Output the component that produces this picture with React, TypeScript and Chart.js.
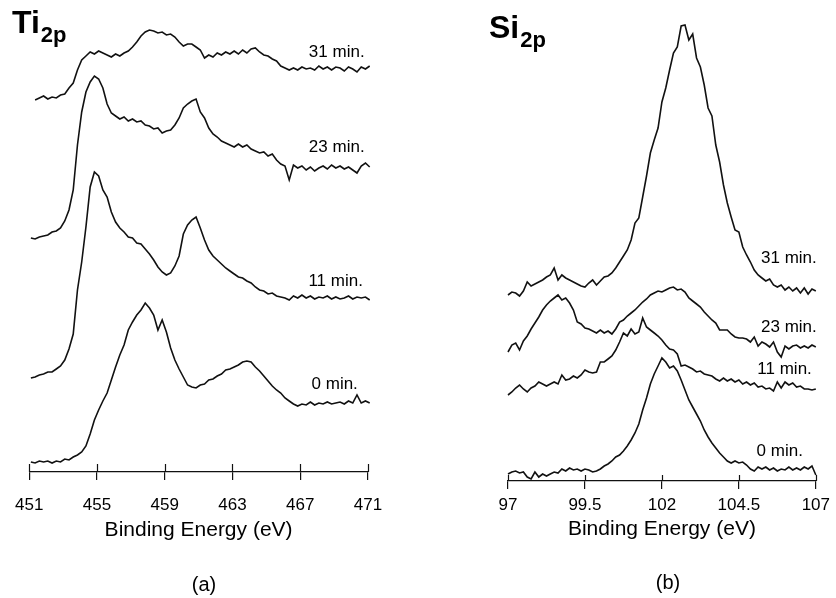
import React, { useEffect, useRef } from "react";
import { Chart, registerables } from "chart.js";

Chart.register(...registerables);

const FONT = "'Liberation Sans', Arial, Helvetica, sans-serif";

// ---------- Ti 2p panel ----------
const tiStart = 451.1;
const tiStep = 0.25;
const tiTicks = [451, 455, 459, 463, 467, 471];

const ti0 = [
  10, 9, 11, 10, 11, 9, 11, 10, 13, 12,
  15, 17, 20, 26, 38, 52, 62, 71, 79, 92,
  105, 117, 127, 142, 150, 157, 162, 169, 164, 157,
  142, 152, 140, 124, 112, 103, 95, 87, 85, 84,
  87, 88, 92, 93, 96, 98, 102, 103, 105, 107,
  110, 111, 110, 105, 101, 96, 91, 86, 82, 79,
  74, 71, 68, 66, 68, 67, 70, 67, 69, 68,
  70, 68, 69, 70, 68, 71, 69, 77, 69, 71,
  69,
];
const ti11 = [
  94, 95, 97, 98, 100, 100, 103, 106, 112, 123,
  138, 182, 210, 245, 285, 300, 296, 282, 275, 260,
  250, 244, 240, 235, 234, 229, 228, 223, 218, 212,
  205, 200, 197, 199, 206, 216, 238, 247, 252, 255,
  244, 232, 222, 216, 212, 208, 204, 201, 198, 195,
  194, 191, 189, 185, 182, 181, 178, 179, 176, 175,
  174, 172, 176, 174, 177, 174, 176, 173, 175, 174,
  176, 173, 175, 173, 174, 176, 173, 175, 174, 175,
  172,
];
const ti23 = [
  234, 233, 235, 236, 237, 240, 241, 244, 251, 262,
  282, 327, 360, 380, 390, 396, 393, 384, 368, 359,
  356, 353, 355, 351, 353, 350, 351, 347, 346, 343,
  344, 339, 341, 342, 347, 354, 364, 368, 371, 373,
  360, 354, 344, 338, 335, 331, 329, 327, 325, 328,
  325, 327, 323, 321, 319, 320, 316, 318, 312, 308,
  306, 292, 307, 304, 306, 302, 305, 301, 304, 306,
  303, 307, 304, 306, 303, 305, 302, 299, 306, 309,
  305,
];
const ti31 = [
  null, 372, 374, 376, 373, 375, 374, 377, 378, 384,
  389, 402, 412, 416, 420, 418, 421, 419, 417, 415,
  418, 416, 419, 421, 425, 430, 436, 440, 442, 441,
  439, 440, 437, 438, 435, 430, 426, 428, 428, 425,
  422, 414, 417, 415, 419, 417, 420, 418, 421, 418,
  422, 419, 423, 424, 420, 417, 416, 413, 411, 406,
  404, 402, 404, 402, 405, 403, 404, 402, 406, 403,
  405, 402, 405, 404, 401, 405, 403, 400, 405, 403,
  406,
];
const tiLabels = ["31 min.", "23 min.", "11 min.", "0 min."];
const tiLabelX = [470.8, 470.8, 470.7, 470.4];
const tiLabelY = [420, 325, 191, 88];

// ---------- Si 2p panel ----------
const siStart = 97;
const siStep = 0.125;
const siTicks = [97, 99.5, 102, 104.5, 107];

const si0 = [
  7, 9, 10, 8, 9, 4, 2, 9, 4, 7,
  5, 7, 9, 8, 12, 10, 13, 11, 12, 10,
  12, 11, 9, 10, 12, 15, 17, 20, 24, 26,
  30, 35, 41, 48, 57, 71, 83, 97, 107, 115,
  123, 119, 113, 115, 110, 101, 91, 81, 74, 67,
  60, 51, 44, 38, 33, 28, 24, 20, 18, 20,
  18, 19, 16, 12, 10, 14, 12, 14, 11, 13,
  10, 12, 11, 14, 11, 13, 11, 14, 12, 15,
  6,
];
const si11 = [
  86, 89, 93, 96, 92, 89, 93, 95, 99, 97,
  95, 97, 99, 97, 106, 101, 102, 105, 103, 106,
  111, 109, 108, 109, 119, 119, 122, 125, 131, 139,
  148, 145, 152, 147, 149, 163, 154, 151, 148, 145,
  141, 136, 132, 131, 127, 115, 116, 114, 112, 109,
  110, 107, 106, 105, 102, 100, 103, 100, 102, 99,
  101, 97, 99, 96, 98, 94, 95, 92, 93, 90,
  99, 93, 99, 96, 98, 94, 95, 92, 92, 91,
  92,
];
const si23 = [
  129, 136, 138, 131, 140, 145, 152, 158, 164, 171,
  176, 180, 183, 186, 181, 183, 178, 171, 159, 157,
  153, 152, 150, 148, 151, 148, 150, 147, 152, 159,
  161, 165, 168, 171, 175, 179, 182, 186, 188, 190,
  189, 191, 193, 194, 191, 192, 189, 183, 180, 177,
  174, 169, 165, 161, 158, 151, 151, 151, 147, 144,
  143, 143, 142, 139, 144, 135, 139, 137, 134, 139,
  129, 124, 135, 132, 135, 136, 133, 135, 133, 136,
  134,
];
const si31 = [
  186, 189, 188, 185, 190, 199, 195, 197, 199, 201,
  204, 206, 213, 201, 206, 203, 201, 199, 197, 195,
  194, 198, 201, 196, 200, 204, 205, 208, 213, 219,
  225, 231, 241, 258, 263, 284, 305, 328, 341, 353,
  379, 393, 411, 428, 434, 455, 456, 441, 447, 423,
  414, 396, 373, 365, 336, 319, 296, 278, 264, 251,
  249, 234, 226, 219, 211, 206, 203, 200, 202, 196,
  194, 196, 191, 194, 190, 193, 188, 193, 187, 192,
  190,
];
const siLabels = ["31 min.", "23 min.", "11 min.", "0 min."];
const siLabelX = [107.03, 107.03, 106.87, 106.58];
const siLabelY = [223, 154, 112, 30];

const INK = "#111";

const decorPlugin = {
  id: "decor",
  afterDatasetsDraw(chart: any, _args: any, opts: any) {
    const ctx = chart.ctx;
    const xs = chart.scales.x;
    const ys = chart.scales.y;
    const axisY = chart.chartArea.bottom;
    ctx.save();
    ctx.strokeStyle = INK;
    ctx.lineWidth = 1.2;
    for (const t of xs.ticks) {
      const px = Math.round(xs.getPixelForValue(t.value)) + 0.5;
      ctx.beginPath();
      ctx.moveTo(px, axisY - opts.up);
      ctx.lineTo(px, axisY);
      ctx.stroke();
    }
    ctx.fillStyle = "#000";
    ctx.font = `17px ${FONT}`;
    ctx.textAlign = "right";
    ctx.textBaseline = "middle";
    opts.labels.forEach((l: string, i: number) => {
      ctx.fillText(l, xs.getPixelForValue(opts.lx[i]), ys.getPixelForValue(opts.ly[i]));
    });
    ctx.restore();
  },
};

function toPoints(vals: (number | null)[], start: number, step: number) {
  return vals.map((v, i) => ({ x: start + i * step, y: v }));
}

type PanelCfg = {
  series: (number | null)[][];
  start: number;
  step: number;
  ticks: number[];
  xmin: number;
  xmax: number;
  ymax: number;
  padLeft: number;
  padRight: number;
  axisHeight: number;
  tickPad: number;
  titlePadBottom: number;
  up: number;
  labels: string[];
  lx: number[];
  ly: number[];
};

function Panel({ cfg, width, left }: { cfg: PanelCfg; width: number; left: number }) {
  const ref = useRef<HTMLCanvasElement | null>(null);
  useEffect(() => {
    if (!ref.current) return;
    const chart = new Chart(ref.current, {
      type: "line",
      data: {
        datasets: cfg.series.map((s) => ({
          data: toPoints(s, cfg.start, cfg.step) as any,
          borderColor: INK,
          borderWidth: 1.6,
          pointRadius: 0,
          tension: 0,
          fill: false,
          clip: false as any,
        })),
      },
      options: {
        responsive: false,
        animation: false,
        events: [],
        layout: { padding: { left: cfg.padLeft, right: cfg.padRight, top: 22, bottom: 0 } },
        plugins: {
          legend: { display: false },
          tooltip: { enabled: false },
          decor: { up: cfg.up, labels: cfg.labels, lx: cfg.lx, ly: cfg.ly },
        } as any,
        scales: {
          x: {
            type: "linear",
            min: cfg.xmin,
            max: cfg.xmax,
            afterBuildTicks: (scale: any) => {
              scale.ticks = cfg.ticks.map((v) => ({ value: v }));
            },
            afterFit: (scale: any) => {
              scale.height = cfg.axisHeight;
            },
            ticks: {
              autoSkip: false,
              maxRotation: 0,
              padding: cfg.tickPad,
              color: "#000",
              font: { family: FONT, size: 17 },
              callback: (v: any) => String(v),
            },
            grid: {
              display: true,
              drawOnChartArea: false,
              drawTicks: true,
              tickLength: 8,
              color: INK,
              lineWidth: 1.2,
            },
            border: { display: true, color: INK, width: 1.2 },
            title: {
              display: true,
              text: "Binding Energy (eV)",
              color: "#000",
              font: { family: FONT, size: 21 },
              padding: { top: 0, bottom: cfg.titlePadBottom },
            },
          },
          y: { display: false, min: 0, max: cfg.ymax },
        },
      },
      plugins: [decorPlugin as any],
    });
    return () => chart.destroy();
  }, []);
  return (
    <canvas
      ref={ref}
      width={width}
      height={598}
      style={{ position: "absolute", left, top: 0, width, height: 598 }}
    />
  );
}

const tiCfg: PanelCfg = {
  series: [ti0, ti11, ti23, ti31],
  start: tiStart,
  step: tiStep,
  ticks: tiTicks,
  xmin: 451,
  xmax: 471,
  ymax: 450,
  padLeft: 27,
  padRight: 52,
  axisHeight: 126,
  tickPad: 15,
  titlePadBottom: 55,
  up: 8,
  labels: tiLabels,
  lx: tiLabelX,
  ly: tiLabelY,
};

const siCfg: PanelCfg = {
  series: [si0, si11, si23, si31],
  start: siStart,
  step: siStep,
  ticks: siTicks,
  xmin: 97,
  xmax: 107,
  ymax: 459,
  padLeft: 88,
  padRight: 15,
  axisHeight: 117,
  tickPad: 6,
  titlePadBottom: 56,
  up: 6,
  labels: siLabels,
  lx: siLabelX,
  ly: siLabelY,
};

export default function App() {
  const head: React.CSSProperties = {
    position: "absolute",
    fontSize: 32,
    lineHeight: "32px",
    fontWeight: "bold",
    whiteSpace: "nowrap",
  };
  const sub: React.CSSProperties = { fontSize: 22, position: "relative", top: 9, marginLeft: 1 };
  const cap: React.CSSProperties = {
    position: "absolute",
    width: 100,
    textAlign: "center",
    fontSize: 20,
    lineHeight: "22px",
  };
  return (
    <div
      style={{
        position: "fixed",
        left: 0,
        top: 0,
        width: 836,
        height: 598,
        background: "#fff",
        fontFamily: FONT,
        color: "#000",
        overflow: "hidden",
      }}
    >
      <Panel cfg={tiCfg} width={420} left={0} />
      <Panel cfg={siCfg} width={416} left={420} />
      <div style={{ ...head, left: 12, top: 6 }}>
        Ti<span style={sub}>2p</span>
      </div>
      <div style={{ ...head, left: 489, top: 11 }}>
        Si<span style={sub}>2p</span>
      </div>
      <div style={{ ...cap, left: 154, top: 573 }}>(a)</div>
      <div style={{ ...cap, left: 618, top: 571 }}>(b)</div>
    </div>
  );
}
